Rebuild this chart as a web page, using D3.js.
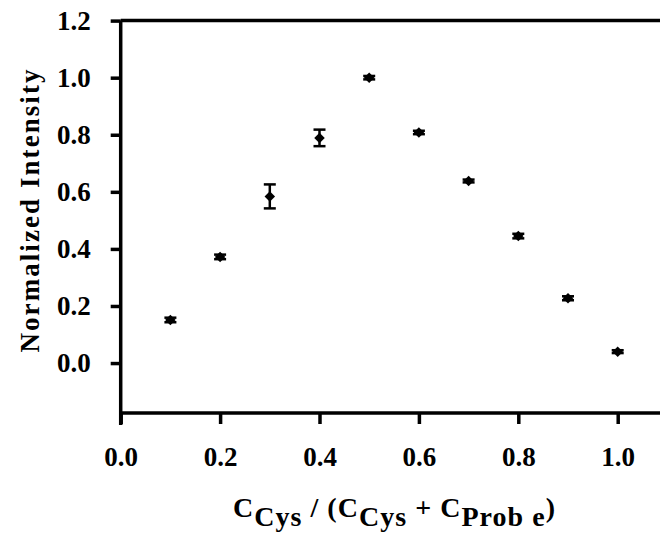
<!DOCTYPE html>
<html>
<head>
<meta charset="utf-8">
<script src="https://cdn.jsdelivr.net/npm/d3@7"></script>
<style>
  html, body { margin: 0; padding: 0; background: #fff; }
  svg { display: block; font-family: "Liberation Serif", "Times New Roman", serif; font-weight: bold; }
</style>
</head>
<body>
<div id="chart"></div>
<script>
// Job's plot data
const fractions = [0.1, 0.2, 0.3, 0.4, 0.5, 0.6, 0.7, 0.8, 0.9, 1.0];
const intensity = [0.151, 0.372, 0.584, 0.789, 1.0, 0.808, 0.638, 0.445, 0.227, 0.040];
const errors    = [0.008, 0.008, 0.042, 0.029, 0.006, 0.006, 0.005, 0.008, 0.007, 0.005];
const xTicks = [0.0, 0.2, 0.4, 0.6, 0.8, 1.0];
const yTicks = [0.0, 0.2, 0.4, 0.6, 0.8, 1.0, 1.2];

const W = 660, H = 537;
const svg = d3.select('#chart').append('svg').attr('width', W).attr('height', H);

const x = d3.scaleLinear().domain([0, 1.1]).range([120.7, 667.4]);
const y = d3.scaleLinear().domain([-0.175, 1.2]).range([413, 20.6]);

const AXIS_W = 3.5;
const TICK_FONT = 27;

// top frame line
svg.append('line')
  .attr('x1', x(0)).attr('x2', W + 5)
  .attr('y1', y(1.2)).attr('y2', y(1.2))
  .attr('stroke', '#000').attr('stroke-width', AXIS_W);

// y axis
const yAxis = svg.append('g')
  .attr('transform', `translate(${x(0)},0)`)
  .call(d3.axisLeft(y).tickValues(yTicks).tickSize(10).tickPadding(20).tickFormat(d3.format('.1f')));
yAxis.attr('font-size', TICK_FONT).attr('font-family', 'Liberation Serif').attr('font-weight', 'bold');
yAxis.select('.domain').attr('d', `M0,${y(1.2)}V${y(-0.175) + 12}`).attr('stroke-width', AXIS_W);
yAxis.selectAll('.tick line').attr('stroke-width', AXIS_W);
yAxis.selectAll('.tick text').attr('fill', '#000');

// x axis
const xAxis = svg.append('g')
  .attr('transform', `translate(0,${y(-0.175)})`)
  .call(d3.axisBottom(x).tickValues(xTicks).tickSize(11).tickPadding(23).tickFormat(d3.format('.1f')));
xAxis.attr('font-size', TICK_FONT).attr('font-family', 'Liberation Serif').attr('font-weight', 'bold');
xAxis.select('.domain').attr('d', `M${x(0)},0H${W + 5}`).attr('stroke-width', AXIS_W);
xAxis.selectAll('.tick line').attr('stroke-width', AXIS_W);
xAxis.selectAll('.tick text').attr('fill', '#000');

// error bars and markers
const pts = fractions.map((f, i) => ({ f, v: intensity[i], e: errors[i] }));
const g = svg.append('g');
const cap = 6;
pts.forEach(d => {
  const cx = x(d.f), top = y(d.v + d.e), bot = y(d.v - d.e);
  g.append('line').attr('x1', cx).attr('x2', cx).attr('y1', top).attr('y2', bot)
    .attr('stroke', '#000').attr('stroke-width', 2.5);
  [top, bot].forEach(yy => g.append('line')
    .attr('x1', cx - cap).attr('x2', cx + cap).attr('y1', yy).attr('y2', yy)
    .attr('stroke', '#000').attr('stroke-width', 2.5));
});
g.selectAll('path.mark')
  .data(pts)
  .join('path')
  .attr('class', 'mark')
  .attr('transform', d => `translate(${x(d.f)},${y(d.v)})`)
  .attr('d', d3.symbol(d3.symbolDiamond2, 70)())
  .attr('fill', '#000');

// y label
svg.append('text')
  .attr('transform', `translate(39,211) rotate(-90)`)
  .attr('text-anchor', 'middle')
  .attr('font-size', 27)
  .attr('textLength', 283)
  .attr('lengthAdjust', 'spacing')
  .attr('fill', '#000')
  .text('Normalized Intensity');

// x label with subscripts
const xl = svg.append('text')
  .attr('x', 233).attr('y', 517)
  .attr('font-size', 28)
  .attr('textLength', 322)
  .attr('lengthAdjust', 'spacing')
  .attr('fill', '#000');
const parts = [
  ['C', false], ['Cys', true], [' / (C', false], ['Cys', true],
  [' + C', false], ['Prob e', true], [')', false]
];
parts.forEach(([t, sub]) => {
  const ts = xl.append('tspan').text(t);
  if (sub) ts.attr('dy', 9);
  else ts.attr('dy', t === 'C' ? 0 : -9);
});
</script>
</body>
</html>
